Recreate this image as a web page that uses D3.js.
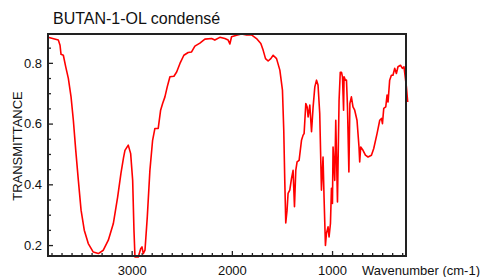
<!DOCTYPE html>
<html>
<head>
<meta charset="utf-8">
<script src="https://cdn.jsdelivr.net/npm/d3@7"></script>
<style>
  body { margin: 0; background: #fff; }
  svg { display: block; font-family: "Liberation Sans", Arial, sans-serif; }
</style>
</head>
<body>
<svg width="482" height="277"></svg>
<script>
// spectrum (wavenumber in cm-1, transmittance)
const wavenumber = [3835, 3732, 3715, 3705, 3682, 3658, 3632, 3605, 3582, 3558, 3532, 3505, 3473, 3433, 3383, 3333, 3283, 3233, 3183, 3140,
  3107, 3082, 3067, 3034, 3010, 2990, 2977, 2967, 2934, 2910, 2897, 2884, 2867, 2844, 2818, 2791, 2768, 2735, 2711, 2691,
  2668, 2645, 2618, 2578, 2551, 2518, 2479, 2436, 2402, 2369, 2319, 2269, 2202, 2170, 2120, 2070, 2037, 2020, 2003, 1953,
  1903, 1853, 1804, 1754, 1711, 1688, 1664, 1638, 1611, 1588, 1554, 1521, 1495, 1482, 1472, 1462, 1449, 1439, 1422, 1405,
  1389, 1375, 1362, 1349, 1329, 1305, 1289, 1279, 1262, 1249, 1239, 1222, 1205, 1189, 1172, 1155, 1140, 1123, 1106, 1090,
  1080, 1066, 1056, 1040, 1030, 1016, 1006, 996, 990, 973, 963, 946, 930, 918, 906, 896, 885, 880, 867, 856,
  846, 832, 822, 807, 791, 774, 751, 731, 724, 714, 691, 667, 641, 607, 584, 551, 524, 507, 497, 484,
  464, 451, 441, 425, 408, 392, 375, 358, 342, 317, 298, 282, 258, 245];
const transmittance = [0.884, 0.875, 0.858, 0.828, 0.825, 0.787, 0.749, 0.688, 0.611, 0.512, 0.413, 0.315, 0.249, 0.205, 0.177, 0.172, 0.183, 0.216, 0.271, 0.358,
  0.436, 0.486, 0.512, 0.529, 0.501, 0.413, 0.249, 0.161, 0.161, 0.188, 0.194, 0.172, 0.183, 0.293, 0.446, 0.545, 0.584, 0.584, 0.644, 0.666,
  0.688, 0.721, 0.754, 0.756, 0.770, 0.798, 0.825, 0.834, 0.836, 0.855, 0.865, 0.878, 0.880, 0.875, 0.884, 0.880, 0.875, 0.862, 0.886, 0.891,
  0.895, 0.892, 0.892, 0.880, 0.864, 0.842, 0.814, 0.806, 0.814, 0.825, 0.814, 0.776, 0.710, 0.578, 0.413, 0.273, 0.315, 0.370, 0.381, 0.419,
  0.446, 0.326, 0.446, 0.474, 0.479, 0.545, 0.562, 0.567, 0.666, 0.655, 0.622, 0.661, 0.573, 0.655, 0.721, 0.743, 0.727, 0.633, 0.381, 0.490,
  0.358, 0.199, 0.238, 0.260, 0.227, 0.271, 0.387, 0.337, 0.523, 0.413, 0.611, 0.342, 0.677, 0.769, 0.769, 0.754, 0.644, 0.754, 0.743, 0.743,
  0.655, 0.441, 0.666, 0.688, 0.655, 0.644, 0.611, 0.523, 0.474, 0.523, 0.512, 0.496, 0.490, 0.496, 0.518, 0.567, 0.611, 0.617, 0.600, 0.650,
  0.655, 0.694, 0.671, 0.743, 0.759, 0.759, 0.782, 0.765, 0.787, 0.792, 0.782, 0.787, 0.721, 0.671];

const xMajorTicks = [3000, 2000, 1000];
const yMajorTicks = [0.2, 0.4, 0.6, 0.8];
const titleText = "BUTAN-1-OL condensé";
const xLabel = "Wavenumber (cm-1)";
const yLabel = "TRANSMITTANCE";

const svg = d3.select("svg");
const plotLeft = 48, plotRight = 406, plotTop = 34, plotBottom = 256;

const x = d3.scaleLinear().domain([3835, 262]).range([plotLeft, plotRight]);
const y = d3.scaleLinear().domain([0.164, 0.895]).range([plotBottom, plotTop]);

const xMinor = d3.range(300, 3900, 100).filter(v => v <= 3835 && v >= 262 && v % 1000 !== 0);
const yMinor = d3.range(0.2, 0.9, 0.05).filter(v => Math.abs(v * 5 - Math.round(v * 5)) > 0.01);

// minor ticks (inward)
svg.append("g")
    .attr("transform", `translate(0,${plotBottom})`)
    .call(d3.axisBottom(x).tickValues(xMinor).tickSize(-3).tickFormat(""))
    .call(g => g.select(".domain").remove());
svg.append("g")
    .attr("transform", `translate(${plotLeft},0)`)
    .call(d3.axisLeft(y).tickValues(yMinor).tickSize(-3).tickFormat(""))
    .call(g => g.select(".domain").remove());

// major ticks with labels
const xAxis = svg.append("g")
    .attr("transform", `translate(0,${plotBottom})`)
    .call(d3.axisBottom(x).tickValues(xMajorTicks).tickSize(-5).tickPadding(10).tickFormat(d3.format("d")));
xAxis.select(".domain").remove();
xAxis.selectAll("text").attr("font-size", 13).attr("font-family", "Liberation Sans, Arial, sans-serif").attr("fill", "#111");

const yAxis = svg.append("g")
    .attr("transform", `translate(${plotLeft},0)`)
    .call(d3.axisLeft(y).tickValues(yMajorTicks).tickSize(-5).tickPadding(6).tickFormat(d3.format(".1f")));
yAxis.select(".domain").remove();
yAxis.selectAll("text").attr("font-size", 13).attr("font-family", "Liberation Sans, Arial, sans-serif").attr("fill", "#111");

svg.selectAll(".tick line").attr("stroke", "#222").attr("stroke-width", 1.3);

// spectrum
const pts = wavenumber.map((w, i) => [w, transmittance[i]]);
svg.append("path")
    .datum(pts)
    .attr("fill", "none")
    .attr("stroke", "#ff0000")
    .attr("stroke-width", 1.6)
    .attr("stroke-linejoin", "round")
    .attr("d", d3.line().x(d => x(d[0])).y(d => y(d[1])));

// frame
svg.append("rect")
    .attr("x", plotLeft).attr("y", plotTop)
    .attr("width", plotRight - plotLeft).attr("height", plotBottom - plotTop)
    .attr("fill", "none").attr("stroke", "#222").attr("stroke-width", 2);

svg.append("text")
    .attr("x", 53).attr("y", 24)
    .attr("font-size", 16).attr("fill", "#111")
    .text(titleText);

svg.append("text")
    .attr("x", 362).attr("y", 275)
    .attr("font-size", 13).attr("fill", "#111")
    .text(xLabel);

svg.append("text")
    .attr("transform", "translate(22,146) rotate(-90)")
    .attr("text-anchor", "middle")
    .attr("font-size", 13).attr("fill", "#111")
    .text(yLabel);
</script>
</body>
</html>
